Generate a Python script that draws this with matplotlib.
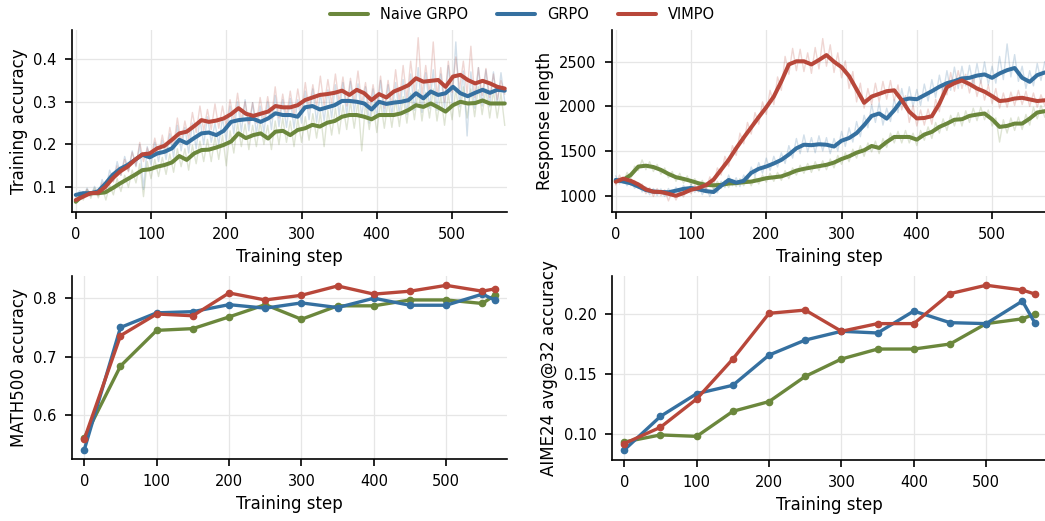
import numpy as np
import matplotlib
matplotlib.use("Agg")
import matplotlib.pyplot as plt

# ---- data ----
methods = ["Naive GRPO", "GRPO", "VIMPO"]
colors = {"Naive GRPO": "#6b873c", "GRPO": "#3570a0", "VIMPO": "#b8473a"}

# training accuracy, smoothed curve (0..570)
acc_smooth_naive = [0.066, 0.082, 0.086, 0.086, 0.088, 0.098, 0.109, 0.119, 0.129, 0.140,
                    0.142, 0.148, 0.152, 0.158, 0.173, 0.164, 0.179, 0.187, 0.188, 0.193,
                    0.199, 0.207, 0.226, 0.215, 0.222, 0.226, 0.214, 0.230, 0.232, 0.222,
                    0.234, 0.238, 0.246, 0.242, 0.251, 0.255, 0.265, 0.269, 0.269, 0.265,
                    0.259, 0.269, 0.269, 0.269, 0.273, 0.281, 0.292, 0.288, 0.296, 0.287,
                    0.277, 0.292, 0.300, 0.296, 0.297, 0.303, 0.296, 0.296, 0.296]
acc_smooth_grpo = [0.082, 0.086, 0.086, 0.090, 0.108, 0.129, 0.143, 0.152, 0.164, 0.176,
                   0.170, 0.179, 0.183, 0.191, 0.211, 0.203, 0.215, 0.226, 0.228, 0.222,
                   0.232, 0.253, 0.257, 0.259, 0.260, 0.253, 0.261, 0.273, 0.269, 0.269,
                   0.265, 0.287, 0.290, 0.282, 0.287, 0.292, 0.302, 0.302, 0.300, 0.296,
                   0.282, 0.300, 0.295, 0.298, 0.300, 0.304, 0.320, 0.308, 0.324, 0.316,
                   0.320, 0.335, 0.320, 0.313, 0.321, 0.328, 0.321, 0.328, 0.326]
acc_smooth_vimpo = [0.070, 0.078, 0.086, 0.087, 0.101, 0.121, 0.137, 0.148, 0.164, 0.177,
                    0.179, 0.191, 0.197, 0.211, 0.226, 0.230, 0.243, 0.257, 0.253, 0.256,
                    0.261, 0.271, 0.285, 0.272, 0.267, 0.272, 0.277, 0.290, 0.287, 0.287,
                    0.292, 0.304, 0.310, 0.316, 0.318, 0.321, 0.326, 0.316, 0.328, 0.320,
                    0.304, 0.318, 0.310, 0.324, 0.331, 0.339, 0.355, 0.347, 0.349, 0.351,
                    0.335, 0.359, 0.363, 0.351, 0.343, 0.349, 0.343, 0.335, 0.331]

# training accuracy, raw per-step values (every 5 steps, 0..570)
acc_raw_naive = [0.062, 0.085, 0.070, 0.095, 0.074, 0.098, 0.075, 0.100, 0.070, 0.105,
                 0.082, 0.120, 0.090, 0.128, 0.100, 0.140, 0.110, 0.155, 0.078, 0.160,
                 0.120, 0.165, 0.125, 0.170, 0.130, 0.178, 0.135, 0.190, 0.148, 0.190,
                 0.140, 0.198, 0.155, 0.208, 0.160, 0.212, 0.160, 0.218, 0.165, 0.222,
                 0.150, 0.232, 0.180, 0.250, 0.195, 0.248, 0.188, 0.245, 0.195, 0.252,
                 0.200, 0.245, 0.188, 0.255, 0.200, 0.262, 0.205, 0.255, 0.195, 0.260,
                 0.205, 0.265, 0.210, 0.272, 0.215, 0.275, 0.195, 0.280, 0.222, 0.285,
                 0.225, 0.292, 0.235, 0.300, 0.238, 0.302, 0.185, 0.298, 0.235, 0.295,
                 0.228, 0.300, 0.238, 0.302, 0.240, 0.305, 0.242, 0.312, 0.250, 0.320,
                 0.258, 0.328, 0.255, 0.322, 0.262, 0.330, 0.255, 0.315, 0.245, 0.318,
                 0.258, 0.330, 0.265, 0.335, 0.262, 0.330, 0.265, 0.335, 0.270, 0.330,
                 0.262, 0.325, 0.262, 0.320, 0.245]
acc_raw_grpo = [0.075, 0.092, 0.078, 0.098, 0.080, 0.102, 0.082, 0.118, 0.096, 0.140,
                0.115, 0.160, 0.128, 0.172, 0.138, 0.185, 0.148, 0.200, 0.095, 0.195,
                0.152, 0.205, 0.160, 0.210, 0.165, 0.225, 0.170, 0.245, 0.185, 0.240,
                0.180, 0.250, 0.190, 0.260, 0.200, 0.265, 0.205, 0.250, 0.200, 0.262,
                0.208, 0.290, 0.225, 0.300, 0.230, 0.305, 0.232, 0.298, 0.225, 0.290,
                0.228, 0.300, 0.235, 0.315, 0.242, 0.305, 0.240, 0.308, 0.238, 0.305,
                0.250, 0.325, 0.258, 0.330, 0.252, 0.320, 0.255, 0.328, 0.262, 0.340,
                0.268, 0.345, 0.270, 0.348, 0.275, 0.342, 0.265, 0.335, 0.250, 0.330,
                0.262, 0.350, 0.265, 0.340, 0.268, 0.345, 0.270, 0.352, 0.270, 0.365,
                0.280, 0.380, 0.275, 0.368, 0.285, 0.375, 0.280, 0.365, 0.285, 0.385,
                0.295, 0.440, 0.288, 0.372, 0.220, 0.370, 0.285, 0.380, 0.290, 0.375,
                0.288, 0.370, 0.292, 0.368, 0.300]
acc_raw_vimpo = [0.066, 0.082, 0.074, 0.095, 0.079, 0.094, 0.080, 0.110, 0.092, 0.128,
                 0.112, 0.150, 0.128, 0.165, 0.136, 0.182, 0.150, 0.205, 0.160, 0.192,
                 0.168, 0.215, 0.175, 0.222, 0.180, 0.240, 0.195, 0.262, 0.205, 0.255,
                 0.212, 0.275, 0.228, 0.290, 0.232, 0.282, 0.235, 0.295, 0.238, 0.290,
                 0.242, 0.305, 0.255, 0.320, 0.258, 0.300, 0.248, 0.298, 0.250, 0.310,
                 0.255, 0.312, 0.260, 0.335, 0.262, 0.318, 0.265, 0.325, 0.268, 0.330,
                 0.275, 0.345, 0.282, 0.340, 0.288, 0.360, 0.290, 0.352, 0.295, 0.365,
                 0.298, 0.358, 0.290, 0.355, 0.300, 0.372, 0.295, 0.345, 0.280, 0.340,
                 0.288, 0.360, 0.285, 0.350, 0.292, 0.375, 0.300, 0.385, 0.305, 0.395,
                 0.320, 0.450, 0.315, 0.385, 0.318, 0.440, 0.312, 0.380, 0.300, 0.395,
                 0.322, 0.405, 0.330, 0.395, 0.318, 0.430, 0.310, 0.380, 0.315, 0.378,
                 0.310, 0.365, 0.305, 0.350, 0.318]

# response length, smoothed curve (every 10 steps, 0..570)
len_smooth_naive = [1164, 1176, 1232, 1325, 1335, 1320, 1288, 1243, 1206, 1187,
                    1164, 1138, 1120, 1115, 1120, 1135, 1140, 1150, 1157, 1175,
                    1195, 1205, 1215, 1245, 1280, 1300, 1315, 1330, 1345, 1370,
                    1410, 1440, 1481, 1508, 1556, 1534, 1601, 1657, 1657, 1657,
                    1627, 1684, 1714, 1770, 1807, 1850, 1856, 1893, 1908, 1920,
                    1856, 1770, 1781, 1807, 1807, 1863, 1931, 1946]
len_smooth_grpo = [1176, 1157, 1138, 1101, 1063, 1045, 1040, 1037, 1055, 1075,
                   1085, 1070, 1050, 1040, 1110, 1175, 1145, 1165, 1255, 1300,
                   1326, 1360, 1400, 1460, 1530, 1570, 1565, 1575, 1570, 1550,
                   1615, 1645, 1700, 1790, 1893, 1920, 1863, 1957, 2069, 2088,
                   2080, 2125, 2170, 2220, 2260, 2283, 2313, 2320, 2345, 2358,
                   2320, 2369, 2406, 2430, 2320, 2275, 2350, 2380]
len_smooth_vimpo = [1155, 1190, 1165, 1125, 1070, 1043, 1040, 1020, 998, 1028,
                    1065, 1085, 1118, 1180, 1290, 1400, 1530, 1650, 1765, 1880,
                    1990, 2110, 2280, 2470, 2505, 2505, 2470, 2520, 2575, 2500,
                    2440, 2340, 2190, 2040, 2110, 2140, 2170, 2180, 2070, 1940,
                    1865, 1870, 1890, 2030, 2215, 2260, 2290, 2250, 2200, 2165,
                    2115, 2060, 2068, 2088, 2096, 2078, 2060, 2068]

# response length, raw values (every 5 steps, 0..570)
len_raw_naive = [1130, 1200, 1140, 1260, 1190, 1330, 1280, 1400, 1290, 1380,
                 1270, 1350, 1240, 1310, 1200, 1270, 1160, 1250, 1140, 1220,
                 1120, 1190, 1100, 1170, 1080, 1160, 1070, 1160, 1080, 1170,
                 1090, 1180, 1100, 1190, 1110, 1200, 1110, 1210, 1130, 1230,
                 1150, 1250, 1160, 1260, 1170, 1280, 1190, 1310, 1230, 1340,
                 1250, 1360, 1260, 1380, 1280, 1390, 1290, 1410, 1310, 1450,
                 1350, 1480, 1380, 1520, 1420, 1560, 1440, 1590, 1490, 1610,
                 1470, 1640, 1540, 1700, 1590, 1720, 1590, 1730, 1590, 1700,
                 1560, 1730, 1620, 1770, 1640, 1820, 1700, 1860, 1730, 1900,
                 1780, 1930, 1780, 1950, 1820, 1980, 1840, 1990, 1850, 1960,
                 1780, 1870, 1600, 1850, 1700, 1870, 1730, 1880, 1740, 1910,
                 1790, 1990, 1860, 2010, 1880]
len_raw_grpo = [1220, 1130, 1200, 1110, 1180, 1080, 1140, 1040, 1100, 1010,
                1080, 1000, 1075, 990, 1080, 1010, 1095, 1020, 1115, 1040,
                1125, 1035, 1110, 1010, 1090, 990, 1080, 1030, 1160, 1090,
                1230, 1110, 1200, 1100, 1230, 1160, 1320, 1220, 1370, 1250,
                1420, 1280, 1440, 1320, 1480, 1360, 1560, 1420, 1640, 1470,
                1680, 1490, 1650, 1480, 1670, 1500, 1650, 1470, 1640, 1500,
                1720, 1550, 1760, 1600, 1830, 1660, 1900, 1760, 2020, 1820,
                2040, 1790, 1980, 1830, 2080, 1930, 2200, 1990, 2220, 2000,
                2190, 2010, 2250, 2060, 2300, 2100, 2350, 2150, 2400, 2180,
                2440, 2200, 2450, 2230, 2460, 2240, 2480, 2260, 2500, 2240,
                2450, 2260, 2560, 2300, 2700, 2330, 2580, 2280, 2450, 2200,
                2400, 2230, 2480, 2290, 2500]
len_raw_vimpo = [1120, 1230, 1150, 1215, 1110, 1170, 1080, 1130, 1020, 1090,
                 990, 1080, 1000, 1065, 940, 1050, 950, 1040, 985, 1090,
                 1020, 1120, 1040, 1150, 1060, 1210, 1120, 1310, 1230, 1440,
                 1330, 1560, 1450, 1700, 1580, 1820, 1690, 1930, 1800, 2050,
                 1910, 2180, 2020, 2330, 2180, 2560, 2360, 2650, 2400, 2640,
                 2390, 2600, 2370, 2660, 2420, 2760, 2450, 2690, 2380, 2600,
                 2320, 2510, 2200, 2390, 2050, 2260, 1980, 2200, 2020, 2260,
                 2050, 2280, 2080, 2290, 2060, 2240, 1960, 2120, 1820, 2010,
                 1780, 1960, 1790, 1970, 1800, 2080, 1940, 2250, 2130, 2380,
                 2170, 2400, 2200, 2360, 2150, 2330, 2110, 2290, 2070, 2240,
                 2030, 2200, 1980, 2150, 1990, 2160, 2010, 2180, 2020, 2170,
                 2000, 2150, 1990, 2130, 2010]

# evaluation checkpoints
eval_steps = [0, 50, 100, 150, 200, 250, 300, 350, 400, 450, 500, 550, 567]
math500_naive = [0.561, 0.684, 0.745, 0.748, 0.768, 0.789, 0.764, 0.787, 0.787, 0.797, 0.797, 0.791, 0.805]
math500_grpo = [0.541, 0.750, 0.775, 0.777, 0.789, 0.783, 0.792, 0.784, 0.800, 0.788, 0.788, 0.807, 0.797]
math500_vimpo = [0.559, 0.736, 0.773, 0.770, 0.809, 0.797, 0.805, 0.821, 0.807, 0.812, 0.822, 0.812, 0.816]
aime_naive = [0.0933, 0.0992, 0.0980, 0.1189, 0.1270, 0.1480, 0.1625, 0.1708, 0.1708, 0.1750, 0.1920, 0.1960, 0.2000]
aime_grpo = [0.0867, 0.1147, 0.1336, 0.1406, 0.1658, 0.1783, 0.1856, 0.1842, 0.2025, 0.1928, 0.1920, 0.2108, 0.1928]
aime_vimpo = [0.0920, 0.1056, 0.1292, 0.1625, 0.2006, 0.2033, 0.1856, 0.1920, 0.1920, 0.2170, 0.2240, 0.2200, 0.2167]

acc_smooth = dict(zip(methods, [acc_smooth_naive, acc_smooth_grpo, acc_smooth_vimpo]))
acc_raw = dict(zip(methods, [acc_raw_naive, acc_raw_grpo, acc_raw_vimpo]))
len_smooth = dict(zip(methods, [len_smooth_naive, len_smooth_grpo, len_smooth_vimpo]))
len_raw = dict(zip(methods, [len_raw_naive, len_raw_grpo, len_raw_vimpo]))
math500 = dict(zip(methods, [math500_naive, math500_grpo, math500_vimpo]))
aime = dict(zip(methods, [aime_naive, aime_grpo, aime_vimpo]))

# ---- figure ----
fig = plt.figure(figsize=(10.45, 5.21), dpi=100)
W, H = 1045, 521


def place(x0, y_top, x1, y_bot):
    return fig.add_axes([x0 / W, 1 - y_bot / H, (x1 - x0) / W, (y_bot - y_top) / H])


ax_acc = place(72, 30, 507, 212)
ax_len = place(612, 30, 1047, 212)
ax_math = place(72, 276, 507, 459)
ax_aime = place(612, 276, 1047, 460)


def style(ax):
    ax.spines["top"].set_visible(False)
    ax.spines["right"].set_visible(False)
    for s in ("left", "bottom"):
        ax.spines[s].set_linewidth(1.2)
    ax.grid(True, color="#e6e6e6", linewidth=0.9)
    ax.set_axisbelow(True)
    ax.tick_params(labelsize=10.5, length=5, width=1.2, pad=6)
    ax.set_xlabel("Training step", fontsize=12, labelpad=4)


def curve_panel(ax, smooth, raw, ylabel):
    for m in methods:
        xs_raw = np.linspace(0, 570, len(raw[m]))
        ax.plot(xs_raw, raw[m], color=colors[m], lw=1.0, alpha=0.22, zorder=2)
    for m in methods:
        xs = np.linspace(0, 570, len(smooth[m]))
        ax.plot(xs, smooth[m], color=colors[m], lw=2.9, zorder=3, label=m,
                solid_capstyle="round")
    ax.set_ylabel(ylabel, fontsize=12)
    style(ax)


def eval_panel(ax, data, ylabel):
    for m in methods:
        ax.plot(eval_steps, data[m], color=colors[m], lw=2.4, marker="o", ms=4.5, zorder=3)
    ax.set_ylabel(ylabel, fontsize=12)
    style(ax)


curve_panel(ax_acc, acc_smooth, acc_raw, "Training accuracy")
ax_acc.set_xlim(-5, 573)
ax_acc.set_ylim(0.042, 0.468)
ax_acc.set_yticks([0.1, 0.2, 0.3, 0.4])

curve_panel(ax_len, len_smooth, len_raw, "Response length")
ax_len.set_xlim(-5, 573)
ax_len.set_ylim(816, 2856)
ax_len.set_yticks([1000, 1500, 2000, 2500])

eval_panel(ax_math, math500, "MATH500 accuracy")
ax_math.set_xlim(-17, 584)
ax_math.set_ylim(0.525, 0.838)
ax_math.set_yticks([0.6, 0.7, 0.8])

eval_panel(ax_aime, aime, "AIME24 avg@32 accuracy")
ax_aime.set_xlim(-17, 584)
ax_aime.set_ylim(0.0783, 0.2317)
ax_aime.set_yticks([0.10, 0.15, 0.20])
ax_aime.set_yticklabels(["0.10", "0.15", "0.20"])

for ax in (ax_acc, ax_len, ax_math, ax_aime):
    ax.set_xticks([0, 100, 200, 300, 400, 500])

handles, labels = ax_acc.get_legend_handles_labels()
fig.legend(handles, labels, loc="upper center", bbox_to_anchor=(0.5, 1.012), ncol=3,
           frameon=False, fontsize=10.5, handlelength=2.6, columnspacing=2.0)

fig.savefig("out.png", dpi=100)
